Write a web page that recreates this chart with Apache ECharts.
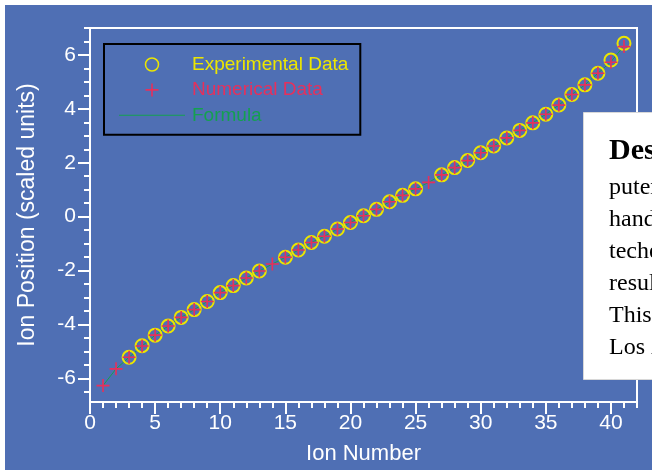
<!DOCTYPE html>
<html>
<head>
<meta charset="utf-8">
<script src="https://cdn.jsdelivr.net/npm/echarts@6/dist/echarts.min.js"></script>
<style>
  html, body { margin: 0; padding: 0; background: #ffffff; }
  #chart { width: 652px; height: 470px; }
</style>
</head>
<body>
<div id="chart"></div>
<script>
// Ion chain positions: numerical solution, measured ions and the analytic formula
const ionNumbers = [1, 2, 3, 4, 5, 6, 7, 8, 9, 10, 11, 12, 13, 14, 15, 16, 17, 18, 19, 20, 21,
  22, 23, 24, 25, 26, 27, 28, 29, 30, 31, 32, 33, 34, 35, 36, 37, 38, 39, 40, 41];
const numericalY = [-6.27, -5.65, -5.22, -4.80, -4.40, -4.06, -3.74, -3.45, -3.15, -2.82, -2.56,
  -2.28, -2.02, -1.76, -1.51, -1.24, -0.96, -0.73, -0.46, -0.22, 0.03, 0.27, 0.55, 0.79, 1.03,
  1.27, 1.55, 1.82, 2.08, 2.37, 2.62, 2.92, 3.20, 3.48, 3.80, 4.14, 4.53, 4.89, 5.32, 5.73, 6.31];
const formulaY = [-6.27, -5.65, -5.22, -4.80, -4.40, -4.06, -3.74, -3.45, -3.15, -2.82, -2.56,
  -2.28, -2.02, -1.76, -1.51, -1.24, -0.96, -0.73, -0.46, -0.22, 0.03, 0.27, 0.55, 0.79, 1.03,
  1.27, 1.55, 1.82, 2.08, 2.37, 2.62, 2.92, 3.20, 3.48, 3.80, 4.14, 4.53, 4.89, 5.32, 5.75, 6.33];
const experimentalIons = [3, 4, 5, 6, 7, 8, 9, 10, 11, 12, 13, 15, 16, 17, 18, 19, 20, 21, 22, 23,
  24, 25, 27, 28, 29, 30, 31, 32, 33, 34, 35, 36, 37, 38, 39, 40, 41];
const experimentalY = [-5.22, -4.79, -4.40, -4.06, -3.74, -3.45, -3.15, -2.82, -2.56, -2.28, -2.02,
  -1.51, -1.24, -0.96, -0.73, -0.46, -0.22, 0.03, 0.27, 0.55, 0.79, 1.03, 1.55, 1.82, 2.08, 2.37,
  2.62, 2.92, 3.20, 3.48, 3.80, 4.14, 4.53, 4.89, 5.32, 5.81, 6.43];
const xTickLabels = [0, 5, 10, 15, 20, 25, 30, 35, 40];
const yTickLabels = [-6, -4, -2, 0, 2, 4, 6];

const BLUE = '#4f6fb4';
const WHITE = '#ffffff';
const YELLOW = '#ece600';
const RED = '#e6305c';
const GREEN = '#14a050';
const SANS = 'Liberation Sans, Arial, sans-serif';
const SERIF = 'Liberation Serif, Times New Roman, serif';
const PLUS = 'path://M-1.5,-12H1.5V-1.5H12V1.5H1.5V12H-1.5V1.5H-12V-1.5H-1.5Z';
const DASH = 'path://M0,-0.5H66V0.5H0Z';

const pairs = (xs, ys) => xs.map((x, i) => [x, ys[i]]);

// unit minor ticks along x, half-unit minor ticks along y
const xMinor = [];
for (let v = 0; v <= 42; v++) xMinor.push(v);
const yMinor = [];
for (let v = -6.5; v <= 7.0001; v += 0.5) yMinor.push(Math.round(v * 10) / 10);

const axisBase = {
  axisLine: { show: true, onZero: false, lineStyle: { color: WHITE, width: 2 } },
  splitLine: { show: false },
  minorTick: { show: false }
};

// side panel lines (serif text box at the right edge)
const panelLines = [
  { text: 'Desc', base: 161, size: 30, bold: true },
  { text: 'puter', base: 196, size: 24 },
  { text: 'hand', base: 228, size: 24 },
  { text: 'teche', base: 260, size: 24 },
  { text: 'result', base: 292, size: 24 },
  { text: 'This', base: 324, size: 24 },
  { text: 'Los A', base: 356, size: 24 }
];
const panelChildren = [
  { type: 'rect', shape: { x: 583.5, y: 112.5, width: 80, height: 267 },
    style: { fill: '#ffffff', stroke: '#d8d8d8', lineWidth: 1 } }
].concat(panelLines.map(l => ({
  type: 'text', x: 609, y: l.base - Math.round(l.size * 0.33),
  style: { text: l.text, fill: '#000', verticalAlign: 'middle', align: 'left',
    font: (l.bold ? 'bold ' : '') + l.size + 'px ' + SERIF }
})));

const chart = echarts.init(document.getElementById('chart'), null, { renderer: 'canvas' });
chart.setOption({
  backgroundColor: WHITE,
  animation: false,
  grid: {
    left: 90, right: 15, top: 28, bottom: 68,
    show: true, borderColor: WHITE, borderWidth: 2, backgroundColor: 'transparent'
  },
  xAxis: [
    Object.assign({}, axisBase, {
      type: 'value', min: 0, max: 42, position: 'bottom',
      axisTick: { show: true, inside: false, length: 12, customValues: xTickLabels,
        lineStyle: { color: WHITE, width: 2 } },
      axisLabel: { show: true, customValues: xTickLabels, color: WHITE, fontSize: 21,
        fontFamily: SANS, margin: 11 },
      name: 'Ion Number', nameLocation: 'middle', nameGap: 41,
      nameTextStyle: { color: WHITE, fontSize: 22, fontFamily: SANS }
    }),
    Object.assign({}, axisBase, {
      type: 'value', min: 0, max: 42, position: 'bottom', gridIndex: 0,
      axisLine: { show: false, onZero: false },
      axisTick: { show: true, inside: false, length: 6, customValues: xMinor,
        lineStyle: { color: WHITE, width: 2 } },
      axisLabel: { show: false }
    })
  ],
  yAxis: [
    Object.assign({}, axisBase, {
      type: 'value', min: -6.88, max: 7, position: 'left',
      axisTick: { show: true, inside: false, length: 12, customValues: yTickLabels,
        lineStyle: { color: WHITE, width: 2 } },
      axisLabel: { show: true, customValues: yTickLabels, color: WHITE, fontSize: 21,
        fontFamily: SANS, margin: 14 },
      name: 'Ion Position (scaled units)', nameLocation: 'middle', nameGap: 51,
      nameTextStyle: { color: WHITE, fontSize: 23, fontFamily: SANS }
    }),
    Object.assign({}, axisBase, {
      type: 'value', min: -6.88, max: 7, position: 'left', gridIndex: 0,
      axisLine: { show: false, onZero: false },
      axisTick: { show: true, inside: false, length: 6, customValues: yMinor,
        lineStyle: { color: WHITE, width: 2 } },
      axisLabel: { show: false }
    })
  ],
  legend: {
    orient: 'vertical', left: 104, top: 44,
    padding: [11, 12, 10, 15],
    itemWidth: 66, itemHeight: 13, itemGap: 6.4,
    symbolKeepAspect: true,
    borderColor: '#000000', borderWidth: 2, backgroundColor: 'transparent',
    textStyle: { fontSize: 19, fontFamily: SANS, padding: [0, 0, 0, 2] },
    data: [
      { name: 'Experimental Data', icon: 'circle', textStyle: { color: YELLOW },
        itemStyle: { color: 'rgba(0,0,0,0)', borderColor: YELLOW, borderWidth: 1.5 } },
      { name: 'Numerical Data', icon: PLUS, textStyle: { color: RED },
        itemStyle: { color: RED, borderWidth: 0 } },
      { name: 'Formula', icon: DASH, textStyle: { color: GREEN },
        itemStyle: { color: GREEN, borderWidth: 0 } }
    ]
  },
  graphic: {
    elements: [
      { type: 'rect', silent: true, z: -100,
        shape: { x: 5, y: 5, width: 647, height: 465 }, style: { fill: BLUE } },
      { type: 'group', z: 100, silent: true, children: panelChildren }
    ]
  },
  series: [
    {
      name: 'Formula', type: 'line', xAxisIndex: 0, yAxisIndex: 0,
      data: pairs(ionNumbers, formulaY), symbol: 'none', smooth: false,
      lineStyle: { color: GREEN, width: 1 }, itemStyle: { color: GREEN }, z: 2
    },
    {
      name: 'Experimental Data', type: 'scatter', xAxisIndex: 0, yAxisIndex: 0,
      data: pairs(experimentalIons, experimentalY), symbol: 'circle', symbolSize: 13,
      itemStyle: { color: 'rgba(0,0,0,0)', borderColor: YELLOW, borderWidth: 2, opacity: 1 }, z: 3
    },
    {
      name: 'Numerical Data', type: 'scatter', xAxisIndex: 0, yAxisIndex: 0,
      data: pairs(ionNumbers, numericalY), symbol: PLUS, symbolSize: 13,
      itemStyle: { color: RED, opacity: 1 }, z: 4
    }
  ]
});
</script>
</body>
</html>
